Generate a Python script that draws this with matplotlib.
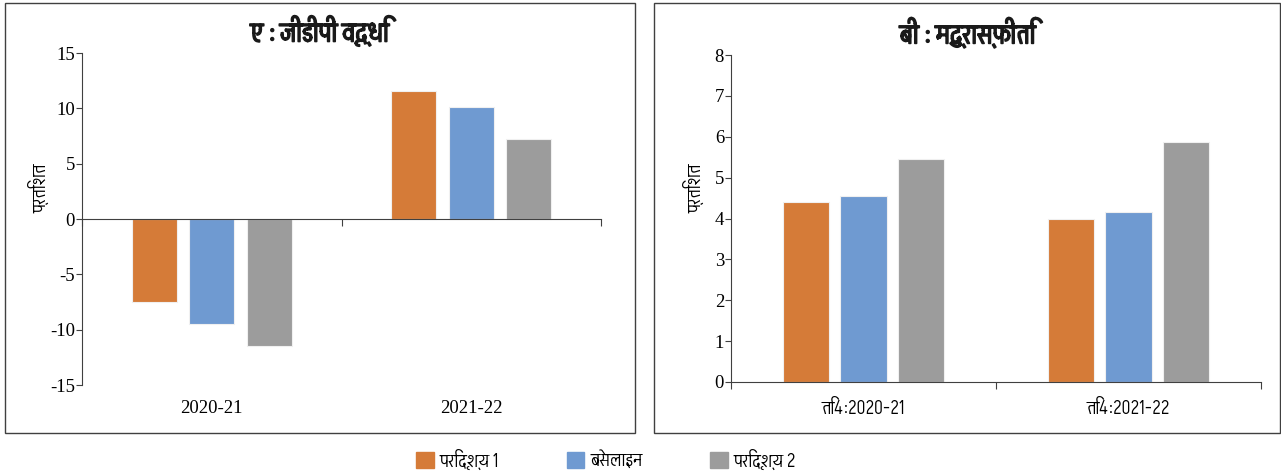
import numpy as np
import matplotlib
matplotlib.use("Agg")
import matplotlib.pyplot as plt
from matplotlib import font_manager
from matplotlib.ft2font import FT2Font
from matplotlib.patches import Rectangle, Patch
import matplotlib.patheffects as pe

# data
series = ["परिदृश्य 1", "बेसलाइन", "परिदृश्य 2"]
colors = ["#D57B38", "#6F9AD1", "#9C9C9C"]

gdp_cats = ["2020-21", "2021-22"]
gdp_s1 = [-7.5, 11.6]
gdp_base = [-9.5, 10.1]
gdp_s2 = [-11.5, 7.2]

inf_cats = ["ति4:2020-21", "ति4:2021-22"]
inf_s1 = [4.4, 4.0]
inf_base = [4.55, 4.15]
inf_s2 = [5.45, 5.88]

# find a font with devanagari glyphs, if any
deva = []
for path in font_manager.findSystemFonts():
    try:
        if 0x0915 in FT2Font(path).get_charmap():
            deva.append(font_manager.FontProperties(fname=path).get_name())
    except Exception:
        pass
fams = sorted(set(deva))[:1] + ["DejaVu Sans"]
plt.rcParams["font.family"] = fams
plt.rcParams["axes.unicode_minus"] = False

fig = plt.figure(figsize=(12.81, 4.75), dpi=100)

# panel frames
for x0, x1 in [(5, 635), (654, 1280)]:
    fig.patches.append(Rectangle((x0 / 1281, 1 - 433 / 475), (x1 - x0) / 1281, 430 / 475,
                                 transform=fig.transFigure, fill=False,
                                 edgecolor="#404040", lw=1))


def bars(ax, vals, step, width):
    x = np.arange(2)
    for i, v in enumerate(vals):
        ax.bar(x + (i - 1) * step, v, width, color=colors[i],
               edgecolor="#f0f0f0", lw=0.8, label=series[i], zorder=2)


def style(ax):
    for s in ["top", "right"]:
        ax.spines[s].set_visible(False)
    ax.spines["bottom"].set_position(("data", 0))
    ax.spines["bottom"].set_color("#404040")
    ax.spines["left"].set_color("#404040")
    ax.set_xlim(-0.5, 1.5)
    ax.set_xticks([-0.5, 0.5, 1.5])
    ax.set_xticklabels([])
    ax.tick_params(axis="x", length=5, color="#404040")
    ax.tick_params(axis="y", length=4, color="#404040", pad=1)
    for t in ax.get_yticklabels():
        t.set_fontfamily("Liberation Serif")
        t.set_fontsize(13.5)


axA = fig.add_axes([82 / 1281, 1 - 385 / 475, 519 / 1281, 332 / 475])
bars(axA, [gdp_s1, gdp_base, gdp_s2], 0.222, 0.174)
axA.set_ylim(-15, 15)
axA.set_yticks(range(-15, 16, 5))
style(axA)
for i, c in enumerate(gdp_cats):
    axA.text(i, -0.07, c, transform=axA.get_xaxis_transform(), ha="center", va="center",
             fontsize=13.5, family="Liberation Serif")

axB = fig.add_axes([731 / 1281, 1 - 382 / 475, 530 / 1281, 327 / 475])
bars(axB, [inf_s1, inf_base, inf_s2], 0.218, 0.174)
axB.set_ylim(0, 8)
axB.set_yticks(range(0, 9))
style(axB)
for i, c in enumerate(inf_cats):
    axB.text(i, -0.08, c, transform=axB.get_xaxis_transform(), ha="center", va="center",
             fontsize=14)

bold = [pe.withStroke(linewidth=1.2, foreground="#1a1a1a")]
fig.text(320 / 1281, 1 - 31 / 475, "ए : जीडीपी वृद्धि", ha="center", va="center",
         fontsize=20, color="#1a1a1a", path_effects=bold)
fig.text(968 / 1281, 1 - 33 / 475, "बी : मुद्रास्फीति", ha="center", va="center",
         fontsize=20, color="#1a1a1a", path_effects=bold)
fig.text(40 / 1281, 1 - 188 / 475, "प्रतिशत", rotation=90, ha="center", va="center", fontsize=14)
fig.text(695 / 1281, 1 - 188 / 475, "प्रतिशत", rotation=90, ha="center", va="center", fontsize=14)

handles = [Patch(color=c) for c in colors]
fig.legend(handles, series, loc="center", bbox_to_anchor=(606 / 1281, 1 - 460 / 475),
           ncol=3, frameon=False, fontsize=14, handlelength=0.9, handleheight=0.9,
           handletextpad=0.3, columnspacing=3.5)

fig.savefig("out.png", dpi=100)
